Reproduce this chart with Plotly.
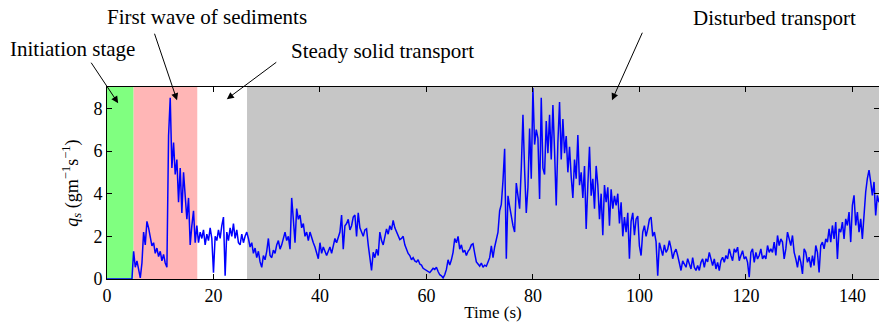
import numpy as np
import plotly.graph_objects as go

# ---- data ----
dt = 0.3125  # sampling step of the series, s
qs = [
    # 0 - 5 s
    0, 0, 0, 0, 0, 0, 0, 0, 0, 0, 0, 0, 0, 0, 0, 0,
    # 5 - 10 s
    1.30, 0.55, 0.85, 0.35, 0.05, 0.75, 2.2, 1.6, 2.7, 2.4, 1.9, 1.55, 1.7, 1.2, 1.45, 1.05,
    # 10 - 15 s
    1.3, 0.85, 1.15, 0.75, 0.55, 6.7, 8.5, 5.2, 6.4, 4.9, 5.6, 3.6, 5.2, 3.1, 5.0, 3.8,
    # 15 - 20 s
    2.8, 3.8, 1.6, 2.5, 3.2, 1.7, 2.5, 1.7, 2.2, 1.9, 2.3, 1.6, 2.1, 1.8, 2.4, 1.9,
    # 20 - 25 s
    0.3, 2.0, 1.8, 2.3, 1.9, 2.5, 2.9, 0.15, 2.2, 1.8, 2.4, 2.0, 2.6, 1.9, 2.3, 1.7,
    # 25 - 30 s
    1.6, 2.1, 1.7, 2.0, 2.2, 1.9, 1.5, 1.7, 1.2, 1.45, 1.0, 1.3, 0.8, 0.55, 1.1, 0.9,
    # 30 - 35 s
    1.3, 1.9, 1.1, 1.0, 1.35, 1.2, 1.6, 1.8, 1.4, 1.6, 1.9, 2.2, 1.8, 2.0, 1.4, 3.8,
    # 35 - 40 s
    2.8, 1.7, 3.3, 2.8, 3.0, 2.4, 2.6, 2.0, 2.2, 1.8, 2.2, 1.9, 1.7, 1.5, 1.2, 0.95,
    # 40 - 45 s
    1.7, 1.2, 1.5, 1.3, 1.1, 1.3, 1.5, 1.2, 1.6, 1.9, 1.7, 2.0, 2.2, 3.0, 1.4, 2.5,
    # 45 - 50 s
    2.6, 2.8, 2.3, 2.5, 2.9, 3.0, 2.0, 3.1, 2.4, 2.2, 2.0, 2.3, 2.35, 1.6, 0.9, 0.4,
    # 50 - 55 s
    1.25, 1.0, 1.4, 1.1, 2.2, 1.8, 1.6, 2.0, 2.35, 2.1, 2.5, 2.3, 2.75, 2.4, 2.2, 2.0,
    # 55 - 60 s
    1.85, 1.9, 2.0, 1.6, 1.4, 1.2, 1.1, 0.9, 1.0, 0.85, 0.8, 0.9, 0.7, 0.65, 0.5, 0.45,
    # 60 - 65 s
    0.4, 0.35, 0.3, 0.4, 0.5, 0.45, 0.55, 0.35, 0.2, 0.15, 0.05, 0.2, 0.45, 0.9, 0.65, 0.9,
    # 65 - 70 s
    1.25, 1.9, 1.7, 2.0, 1.4, 1.6, 1.25, 1.35, 1.1, 1.3, 1.4, 1.6, 1.65, 1.2, 0.8, 0.7,
    # 70 - 75 s
    0.6, 0.75, 0.55, 0.65, 0.6, 0.8, 1.0, 1.55, 1.0, 1.5, 1.9, 2.2, 3.2, 3.5, 4.6, 6.1,
    # 75 - 80 s
    0.95, 3.9, 3.4, 2.9, 2.5, 2.2, 4.5, 3.9, 3.3, 5.2, 7.7, 5.1, 3.1, 4.3, 7.05, 4.7,
    # 80 - 85 s
    8.95, 6.3, 7.0, 6.6, 3.75, 8.5, 5.2, 4.9, 7.4, 5.9, 7.7, 5.6, 8.15, 6.0, 3.45, 6.4,
    # 85 - 90 s
    8.3, 5.6, 7.5, 5.9, 6.7, 5.0, 6.2, 4.8, 3.8, 5.6, 4.7, 6.75, 4.4, 5.0, 3.8, 5.3,
    # 90 - 95 s
    2.35, 4.4, 6.2, 3.9, 4.7, 3.3, 5.3, 4.4, 2.8, 4.0, 2.05, 4.4, 3.6, 4.3, 2.5, 4.2,
    # 95 - 100 s
    3.3, 3.9, 3.45, 4.0, 2.6, 3.6, 2.0, 2.9, 2.2, 3.1, 0.95, 2.7, 3.1, 2.05, 2.8, 2.95,
    # 100 - 105 s
    1.55, 1.1, 2.2, 2.5, 2.0, 2.35, 2.8, 2.9, 2.0, 2.2, 1.75, 0.15, 1.7, 1.4, 1.1, 1.6,
    # 105 - 110 s
    1.25, 1.4, 1.8, 1.45, 0.95, 1.25, 1.4, 1.1, 0.8, 0.4, 0.85, 0.7, 0.55, 0.95, 0.65, 0.47,
    # 110 - 115 s
    1.0, 0.55, 0.4, 0.63, 0.4, 0.78, 0.94, 0.55, 0.95, 0.8, 1.25, 0.86, 0.63, 0.94, 0.47, 0.78,
    # 115 - 120 s
    0.39, 0.86, 1.02, 0.78, 1.1, 0.94, 1.41, 1.1, 0.86, 1.41, 1.25, 1.49, 0.86, 1.1, 1.33, 0.94,
    # 120 - 125 s
    1.05, 0.78, 0.08, 1.25, 1.41, 0.78, 1.25, 0.94, 1.1, 1.41, 0.94, 1.1, 0.94, 1.57, 1.25, 1.41,
    # 125 - 130 s
    1.25, 1.73, 1.1, 2.04, 1.57, 1.88, 1.73, 0.94, 1.41, 2.2, 1.88, 1.57, 2.04, 1.25, 0.94, 0.55,
    # 130 - 135 s
    1.1, 0.78, 0.24, 1.41, 1.25, 0.78, 1.02, 0.55, 1.1, 0.63, 1.57, 1.25, 0.31, 1.57, 1.73, 1.41,
    # 135 - 140 s
    1.88, 1.73, 2.35, 1.73, 2.51, 1.88, 2.67, 0.94, 2.35, 2.2, 2.67, 1.88, 2.82, 2.51, 3.14, 1.73,
    # 140 - 145 s
    3.45, 3.92, 2.51, 3.14, 2.2, 2.82, 1.88, 3.14, 4.08, 4.71, 5.1, 4.55, 3.92, 4.55, 2.98, 3.92,
    # 145 s
    3.6,
]
time = np.arange(len(qs)) * dt

# stages (start, end, colour)
stage_start = [0, 5, 17, 26.3]
stage_end = [5, 17, 26.3, 145]
stage_color = ["#80FF80", "#FFB6B6", "#FFFFFF", "#C6C6C6"]

# labels
label_text = ["Initiation stage", "First wave of sediments",
              "Steady solid transport", "Disturbed transport"]
label_xp = [-0.0453, 0.1289, 0.3575, 0.864]
label_yp = [1.196, 1.362, 1.19, 1.358]
arrow_tip_x = [2.1, 13.15, 22.5, 94.85]
arrow_tip_y = [8.24, 8.38, 8.43, 8.38]
arrow_ax = [-28, -23, 51, 31]
arrow_ay = [-42, -68, -38, -69]

xticks = [0, 20, 40, 60, 80, 100, 120, 140]
yticks = [0, 2, 4, 6, 8]

FONT = "Liberation Serif, Times New Roman, serif"

fig = go.Figure()
fig.add_trace(go.Scatter(x=time, y=qs, mode="lines",
                         line=dict(color="#0000FF", width=1.5),
                         showlegend=False, hoverinfo="skip"))

for s, e, c in zip(stage_start, stage_end, stage_color):
    fig.add_shape(type="rect", xref="x", yref="y", x0=s, x1=e, y0=0, y1=9,
                  fillcolor=c, line=dict(width=0), layer="below")

ann = []
for tx, xp, yp in zip(label_text, label_xp, label_yp):
    ann.append(dict(text=tx, xref="paper", yref="paper", x=xp, y=yp,
                    xanchor="center", yanchor="middle", showarrow=False,
                    font=dict(family=FONT, size=21, color="black")))
for x, y, ax, ay in zip(arrow_tip_x, arrow_tip_y, arrow_ax, arrow_ay):
    ann.append(dict(text="", x=x, y=y, xref="x", yref="y", ax=ax, ay=ay,
                    axref="pixel", ayref="pixel", showarrow=True,
                    arrowhead=2, arrowsize=1.4, arrowwidth=1, arrowcolor="black"))

fig.update_layout(
    width=879, height=322,
    margin=dict(l=107, r=0, t=87, b=43),
    paper_bgcolor="white", plot_bgcolor="white",
    font=dict(family=FONT, size=18, color="black"),
    annotations=ann,
    xaxis=dict(range=[0, 145], tickvals=xticks, ticks="inside", ticklen=5,
               tickcolor="black", showline=True, linecolor="black", linewidth=1,
               mirror="ticks", showgrid=False, zeroline=False,
               title=dict(text="Time (s)", standoff=2, font=dict(size=17)),
               tickfont=dict(size=18)),
    yaxis=dict(range=[0, 9], tickvals=yticks, ticks="inside", ticklen=5,
               tickcolor="black", showline=True, linecolor="black", linewidth=1,
               mirror="ticks", showgrid=False, zeroline=False,
               title=dict(text="<i>q<sub>s</sub></i> (gm<sup>\u22121</sup>s<sup>\u22121</sup>)",
                          standoff=10, font=dict(size=18)),
               tickfont=dict(size=18)),
)

fig.write_html("out.html")
